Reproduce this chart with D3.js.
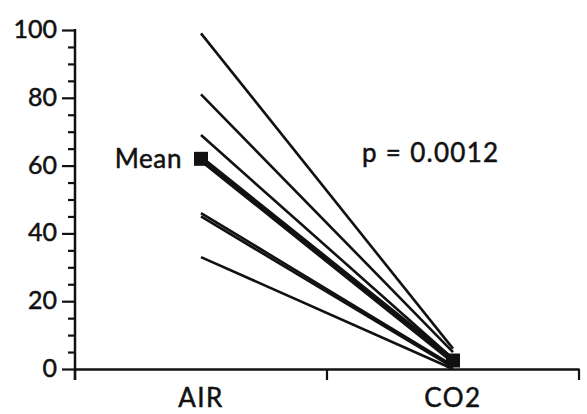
<!DOCTYPE html>
<html><head><meta charset="utf-8">
<script src="https://cdn.jsdelivr.net/npm/d3@7"></script>
<style>html,body{margin:0;padding:0;background:#fff}svg{display:block}</style>
</head><body><svg id="c" width="587" height="414"></svg>
<script>
const conditions = ["AIR", "CO2"];
const airValues = [99, 81, 69, 46, 45, 33];
const co2Values = [6, 5, 3, 1, 0.5, 0];
const meanValues = [62, 2.5];
const yTicks = [0, 20, 40, 60, 80, 100];
const yMinorTicks = [5,10,15,25,30,35,45,50,55,65,70,75,85,90,95];
const pLabel = "p = 0.0012";
const meanLabel = "Mean";

const svg = d3.select("#c");
const font = "Lato, 'Open Sans', sans-serif";
const ink = "#111";
const x = d3.scaleBand().domain(conditions).range([75, 579]);
const y = d3.scaleLinear().domain([0, 100]).range([369, 30]);
const cx = d => x(d) + x.bandwidth() / 2;
const styleText = s => s.attr("font-family", font).attr("fill", ink).attr("stroke", ink).attr("stroke-width", 0.5);

// y axis
const ya = svg.append("g").attr("transform", "translate(75,0)")
  .call(d3.axisLeft(y).tickValues(yTicks).tickSize(13).tickPadding(5).tickSizeOuter(0));
ya.select(".domain").remove();
ya.selectAll(".tick line").attr("stroke", ink).attr("stroke-width", 2.2);
ya.selectAll(".tick text").call(styleText).attr("font-size", 25).attr("dy", "0.3em");
const ym = svg.append("g").attr("transform", "translate(75,0)")
  .call(d3.axisLeft(y).tickValues(yMinorTicks).tickSize(7).tickFormat(""));
ym.select(".domain").remove();
ym.selectAll(".tick line").attr("stroke", ink).attr("stroke-width", 2.2);
svg.append("line").attr("x1", 75).attr("x2", 75).attr("y1", y(100) - 1).attr("y2", 380)
  .attr("stroke", ink).attr("stroke-width", 2.5);

// x axis
const xa = svg.append("g").attr("transform", `translate(0,${y(0)})`)
  .call(d3.axisBottom(x).tickSize(0).tickPadding(0));
xa.select(".domain").attr("stroke", ink).attr("stroke-width", 2.5);
xa.selectAll(".tick text").call(styleText).attr("font-size", 26).attr("letter-spacing", 1.5)
  .attr("dy", null).attr("y", 407 - y(0));
const bounds = [x.range()[0], x("CO2"), x.range()[1]];
svg.append("g").selectAll("line").data(bounds).join("line")
  .attr("x1", d => d).attr("x2", d => d).attr("y1", y(0)).attr("y2", y(0) + 11)
  .attr("stroke", ink).attr("stroke-width", 2.2);

// subject lines
const line = d3.line().x(d => cx(d[0])).y(d => y(d[1]));
svg.append("g").selectAll("path").data(airValues.map((a, i) => [["AIR", a], ["CO2", co2Values[i]]]))
  .join("path").attr("d", line).attr("fill", "none").attr("stroke", ink).attr("stroke-width", 2.6);

// mean line
const meanPts = conditions.map((c, i) => [c, meanValues[i]]);
svg.append("path").attr("d", line(meanPts)).attr("fill", "none").attr("stroke", ink).attr("stroke-width", 6);
svg.append("g").selectAll("rect").data(meanPts).join("rect")
  .attr("x", d => cx(d[0]) - 7).attr("y", d => y(d[1]) - 7).attr("width", 14).attr("height", 14).attr("fill", ink);

svg.append("text").attr("x", cx("AIR") - 19).attr("y", y(meanValues[0]) + 9).attr("text-anchor", "end")
  .call(styleText).attr("font-size", 26).attr("letter-spacing", 0.6).text(meanLabel);
svg.append("text").attr("x", 362).attr("y", 162)
  .call(styleText).attr("font-size", 26).attr("letter-spacing", 1.3).text(pLabel);
</script></body></html>
